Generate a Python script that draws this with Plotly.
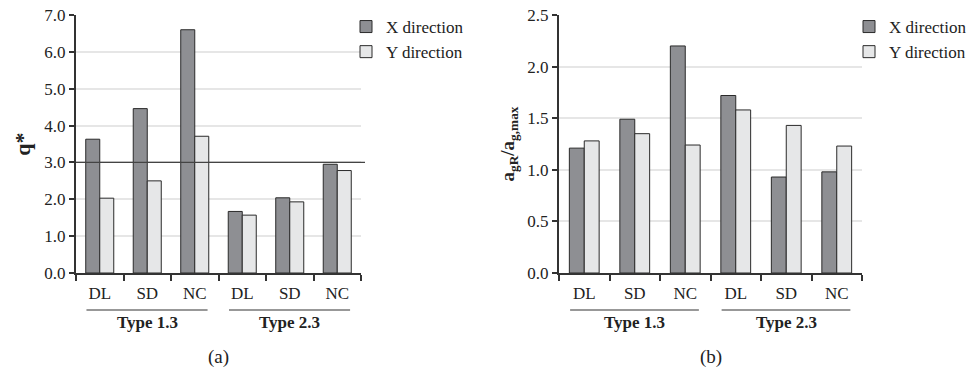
import plotly.graph_objects as go

W, H = 967, 369

categories = ["DL", "SD", "NC", "DL", "SD", "NC"]
groups = ["Type 1.3", "Type 1.3", "Type 1.3", "Type 2.3", "Type 2.3", "Type 2.3"]
series_names = ["X direction", "Y direction"]

q_x = [3.63, 4.46, 6.60, 1.67, 2.04, 2.95]
q_y = [2.03, 2.50, 3.71, 1.57, 1.93, 2.78]
a_x = [1.21, 1.49, 2.20, 1.72, 0.93, 0.98]
a_y = [1.28, 1.35, 1.24, 1.58, 1.43, 1.23]
q_ref = 3.0

xcat = [f"{g}|{c}" for g, c in zip(groups, categories)]
ticktext = categories

FONT = "Liberation Serif"
C_X = "#8e8f93"
C_Y = "#e6e7e8"
EDGE = "#2a2a2a"
GRID = "#e6e6e6"
AXIS = "#333333"
TXT = "#222222"

def px_x(p):
    return p / W

def px_y(p):
    return 1 - p / H

fig = go.Figure()

for vals, name, col in [(q_x, series_names[0], C_X), (q_y, series_names[1], C_Y)]:
    fig.add_trace(go.Bar(x=xcat, y=vals, name=name, marker=dict(color=col, line=dict(color=EDGE, width=1)),
                         xaxis="x", yaxis="y", legend="legend"))
for vals, name, col in [(a_x, series_names[0], C_X), (a_y, series_names[1], C_Y)]:
    fig.add_trace(go.Bar(x=xcat, y=vals, name=name, marker=dict(color=col, line=dict(color=EDGE, width=1)),
                         xaxis="x2", yaxis="y2", legend="legend2"))

ydom = [px_y(273), px_y(15)]
xdom1 = [px_x(76), px_x(361)]
xdom2 = [px_x(559), px_x(862)]

xcommon = dict(type="category", categoryorder="array", categoryarray=xcat, tickmode="array",
               tickvals=xcat, ticktext=ticktext, tickson="boundaries", ticks="outside", ticklen=6,
               tickcolor=AXIS, tickwidth=1.5, showline=True, linecolor=AXIS, linewidth=2, showgrid=False,
               tickfont=dict(family=FONT, size=17, color=TXT), range=[-0.5, 5.5],
               ticklabelstandoff=4)
ycommon = dict(showline=True, linecolor=AXIS, linewidth=2, ticks="outside", ticklen=5, tickcolor=AXIS,
               tickwidth=1.5, showgrid=True, gridcolor=GRID, gridwidth=1.5, tickformat=".1f",
               tickfont=dict(family=FONT, size=17, color=TXT), zeroline=False)

legend_common = dict(xanchor="left", yanchor="top", bgcolor="rgba(0,0,0,0)",
                     font=dict(family=FONT, size=17, color=TXT), itemwidth=30, tracegroupgap=0)

fig.update_layout(
    width=W, height=H, margin=dict(l=0, r=0, t=0, b=0, autoexpand=False),
    paper_bgcolor="white", plot_bgcolor="white",
    barmode="group", bargap=0.41, bargroupgap=0,
    font=dict(family=FONT, size=17, color=TXT),
    xaxis=dict(domain=xdom1, anchor="y", **xcommon),
    xaxis2=dict(domain=xdom2, anchor="y2", **xcommon),
    yaxis=dict(domain=ydom, anchor="x", range=[0, 7], dtick=1,
               title=dict(text="<b>q*</b>", font=dict(family=FONT, size=22), standoff=8), **ycommon),
    yaxis2=dict(domain=ydom, anchor="x2", range=[0, 2.5], dtick=0.5,
                title=dict(text="<b>a<sub>gR</sub>/a<sub>g,max</sub></b>", font=dict(family=FONT, size=19), standoff=8),
                **ycommon),
    legend=dict(x=px_x(346), y=px_y(9), **legend_common),
    legend2=dict(x=px_x(849), y=px_y(9), **legend_common),
    showlegend=True,
)

# reference line q* = 3
fig.add_shape(type="line", xref="paper", yref="y", x0=xdom1[0], x1=px_x(365), y0=q_ref, y1=q_ref,
              line=dict(color="#444", width=1.2))

# group labels with underlines
unique_groups = []
for g in groups:
    if g not in unique_groups:
        unique_groups.append(g)
for xa, label in [("x", "(a)"), ("x2", "(b)")]:
    for g in unique_groups:
        idx = [i for i, gg in enumerate(groups) if gg == g]
        lo, hi = min(idx), max(idx)
        fig.add_shape(type="line", xref=xa, yref="paper", x0=lo - 0.28, x1=hi + 0.27,
                      y0=px_y(310), y1=px_y(310), line=dict(color="#333", width=1.2))
        fig.add_annotation(xref=xa, yref="paper", x=(lo + hi) / 2, y=px_y(322), text=f"<b>{g}</b>",
                           showarrow=False, font=dict(family=FONT, size=17, color=TXT),
                           xanchor="center", yanchor="middle")
    fig.add_annotation(xref=xa, yref="paper", x=2.5, y=px_y(357), text=label, showarrow=False,
                       font=dict(family=FONT, size=19, color=TXT), xanchor="center", yanchor="middle")

fig.write_html("out.html")
